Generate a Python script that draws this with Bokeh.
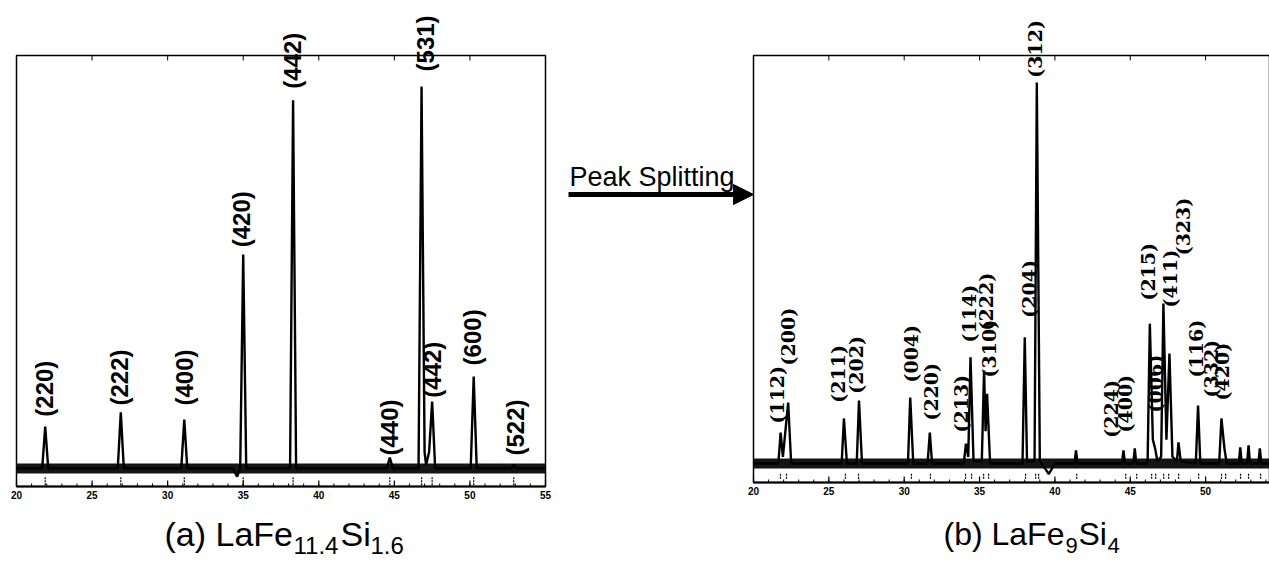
import math
from bokeh.plotting import figure
from bokeh.models import Range1d, Arrow, NormalHead
from bokeh.core.properties import value
from bokeh.embed import file_html
from bokeh.resources import INLINE

# ---------------- data: panel (a) LaFe11.4Si1.6 ----------------
A_XMIN, A_XMAX = 20.0, 55.0
A_BASE = 4.2
A_TICKS = [20, 25, 30, 35, 40, 45, 50, 55]
A_X = [20.0, 21.7, 21.9, 22.1, 26.7, 26.9, 27.1, 30.9, 31.1, 31.3,
       34.3, 34.6, 34.8, 35.0, 35.2, 38.1, 38.3, 38.5, 44.5, 44.7, 44.9,
       46.6, 46.8, 47.0, 47.1, 47.3, 47.5, 47.7, 50.05, 50.25, 50.45,
       52.75, 52.9, 53.05, 55.0]
A_Y = [4.2, 4.2, 13.9, 4.2, 4.2, 17.2, 4.2, 4.2, 15.5, 4.2,
       4.2, 2.3, 4.2, 53.8, 4.2, 4.2, 89.6, 4.2, 4.2, 6.7, 4.2,
       4.2, 92.8, 8.0, 5.0, 8.0, 19.7, 4.2, 4.2, 25.5, 4.2,
       4.2, 5.1, 4.2, 4.2]
A_BRAGG = [21.9, 26.9, 31.1, 35.0, 38.3, 44.7, 46.8, 47.5, 50.25, 52.9]
A_LAB = ["(220)", "(222)", "(400)", "(420)", "(442)", "(440)", "(531)", "(442)", "(600)", "(522)"]
A_LAB_X = [21.85, 26.8, 31.1, 34.9, 38.27, 44.7, 47.07, 47.5, 50.2, 53.0]
A_LAB_Y = [16.2, 18.8, 18.8, 55.5, 92.3, 7.2, 96.3, 20.6, 28.1, 7.2]

# ---------------- data: panel (b) LaFe9Si4 ----------------
B_XMIN, B_XMAX = 20.0, 54.24
B_BASE = 4.45
B_TICKS = [20, 25, 30, 35, 40, 45, 50]
B_X = [20.0, 21.65, 21.8, 21.95, 22.3, 22.5, 25.85, 26.0, 26.2, 26.85, 27.0, 27.2,
       30.25, 30.4, 30.6, 31.55, 31.7, 31.85, 33.95, 34.1, 34.25, 34.4, 34.6,
       35.15, 35.3, 35.4, 35.5, 35.7, 37.85, 38.0, 38.15, 38.65, 38.8, 39.0,
       39.6, 40.0, 41.3, 41.4, 41.5, 44.45, 44.55, 44.65, 45.2, 45.3, 45.4,
       46.15, 46.3, 46.5, 46.65, 46.8, 47.05, 47.2, 47.4, 47.6, 47.8, 48.1,
       48.2, 48.35, 49.35, 49.5, 49.65, 50.9, 51.05, 51.25, 51.4, 52.2, 52.3,
       52.4, 52.75, 52.85, 52.95, 53.5, 53.6, 53.7, 54.24]
B_Y = [4.45, 4.45, 11.7, 6.0, 18.7, 4.45, 4.45, 15.0, 4.45, 4.45, 19.2, 4.45,
       4.45, 19.9, 4.45, 4.45, 11.7, 4.45, 4.45, 9.1, 6.0, 29.3, 5.0,
       5.0, 26.2, 12.0, 20.8, 4.45, 4.45, 34.0, 5.0, 5.0, 93.7, 5.0,
       2.0, 4.45, 4.45, 7.5, 4.45, 4.45, 7.5, 4.45, 4.45, 8.0, 4.45,
       4.45, 37.2, 10.0, 8.0, 5.0, 6.0, 41.9, 10.0, 30.2, 6.0, 5.0,
       9.4, 5.0, 4.45, 18.0, 4.45, 4.45, 15.0, 8.0, 4.45, 4.45, 8.2,
       4.45, 4.45, 8.7, 4.45, 4.45, 8.0, 4.45, 4.45]
B_BRAGG = [21.79, 22.19, 26.1, 26.97, 30.48, 31.74, 34.07, 34.47, 35.27, 35.6,
           38.05, 38.72, 38.92, 41.45, 44.7, 45.43, 46.42, 46.69, 47.22, 47.55,
           48.21, 49.54, 51.06, 51.33, 52.32, 52.85, 53.65]
B_LAB = ["(112)", "(200)", "(211)", "(202)", "(004)", "(220)", "(213)", "(114)",
         "(310)", "(222)", "(204)", "(312)", "(224)", "(400)", "(006)", "(215)",
         "(411)", "(323)", "(116)", "(332)", "(420)"]
B_LAB_X = [21.53, 22.32, 25.64, 26.83, 30.42, 31.75, 33.8, 34.27, 35.6, 35.4, 38.25,
           38.7, 43.75, 44.68, 46.67, 46.2, 47.67, 48.5, 49.33, 50.33, 51.06]
B_LAB_Y = [13.8, 27.4, 18.7, 20.8, 23.4, 14.5, 11.7, 32.8, 24.6, 35.6, 38.6,
           94.8, 10.5, 11.7, 16.4, 42.6, 41.0, 53.2, 24.6, 19.9, 19.2]

W, H = 1269, 561
p = figure(width=W, height=H, output_backend="svg", toolbar_location=None,
           x_range=Range1d(0, W), y_range=Range1d(H, 0),
           x_axis_type=None, y_axis_type=None, min_border=0)
p.grid.visible = False
p.outline_line_color = None
p.background_fill_color = "white"
p.border_fill_color = "white"


def add_panel(name, frame, xlim, xs, ys, base, ticks, bragg, bragg_lo, bragg_hi,
              labs, lab_x, lab_y, lab_font, lab_size):
    left, right, top, bottom = frame
    xmin, xmax = xlim
    kx = (xmax - xmin) / (right - left)
    ky = 100.0 / (bottom - top)
    x0 = xmin - left * kx
    p.extra_x_ranges[name] = Range1d(x0, x0 + W * kx)
    p.extra_y_ranges[name] = Range1d(-(H - bottom) * ky, bottom * ky)
    kw = dict(x_range_name=name, y_range_name=name)

    # frame box
    p.quad(left=[xmin], right=[xmax], bottom=[0], top=[100], fill_color=None,
           line_color="black", line_width=1.5, **kw)
    p.segment(x0=[xmin], y0=[0], x1=[xmax], y1=[0], line_width=2.2, color="black", **kw)
    # ticks (inside) bottom and top
    minors = [v for v in range(int(xmin), int(xmax) + 1)]
    n = len(ticks)
    p.segment(x0=ticks, y0=[0] * n, x1=ticks, y1=[6 * ky] * n, color="black", line_width=1.2, **kw)
    p.segment(x0=minors, y0=[0] * len(minors), x1=minors, y1=[3 * ky] * len(minors),
              color="black", line_width=1, **kw)
    p.segment(x0=ticks, y0=[100] * n, x1=ticks, y1=[100 - 5 * ky] * n, color="black",
              line_width=1, **kw)
    p.text(x=ticks, y=[-4 * ky] * n, text=[str(t) for t in ticks], text_align="center",
           text_baseline="top", text_font=value("Liberation Sans"), text_font_size="10px",
           text_font_style="bold", text_color="black", **kw)

    # noisy background band and profile
    p.line([xmin, xmax], [base, base], line_width=10, color="#151515", **kw)
    p.line(xs, ys, line_width=2.4, color="black", **kw)
    # Bragg reflection markers
    m = len(bragg)
    p.segment(x0=bragg, y0=[bragg_lo] * m, x1=bragg, y1=[bragg_hi] * m,
              line_width=1.2, color="black", line_dash="2 1", **kw)
    # hkl labels
    p.text(x=lab_x, y=lab_y, text=labs, angle=math.pi / 2, text_align="left",
           text_baseline="middle", text_font=value(lab_font), text_font_size=lab_size,
           text_font_style="bold", text_color="black", **kw)


add_panel("a", (16, 545, 55, 486), (A_XMIN, A_XMAX), A_X, A_Y, A_BASE, A_TICKS,
          A_BRAGG, 0.3, 2.3, A_LAB, A_LAB_X, A_LAB_Y, "Liberation Sans", "24px")
add_panel("b", (753, 1269, 55, 482), (B_XMIN, B_XMAX), B_X, B_Y, B_BASE, B_TICKS,
          B_BRAGG, 0.9, 2.3, B_LAB, B_LAB_X, B_LAB_Y, "DejaVu Serif", "19px")

# titles with subscripts (pixel space)
TITLE_FONT = value("Liberation Sans")
for txt, x, y, size in [("(a) LaFe", 164, 533, "34px"), ("11.4", 293, 545, "24px"),
                        ("Si", 340, 533, "34px"), ("1.6", 370, 545, "24px"),
                        ("(b) LaFe", 943, 533, "32px"), ("9", 1065, 545, "22px"),
                        ("Si", 1078, 533, "32px"), ("4", 1107, 545, "22px")]:
    p.text(x=[x], y=[y], text=[txt], text_font=TITLE_FONT, text_font_size=size,
           text_baseline="alphabetic", text_align="left", text_color="black")

# peak splitting arrow
p.text(x=[569], y=[176], text=["Peak Splitting"], text_font=TITLE_FONT,
       text_font_size="27px", text_baseline="alphabetic", text_align="left", text_color="black")
p.add_layout(Arrow(end=NormalHead(size=20, fill_color="black", line_color="black"),
                   x_start=568, y_start=194, x_end=753, y_end=194,
                   line_width=5, line_color="black"))

open("out.html", "w").write(file_html(p, INLINE))
